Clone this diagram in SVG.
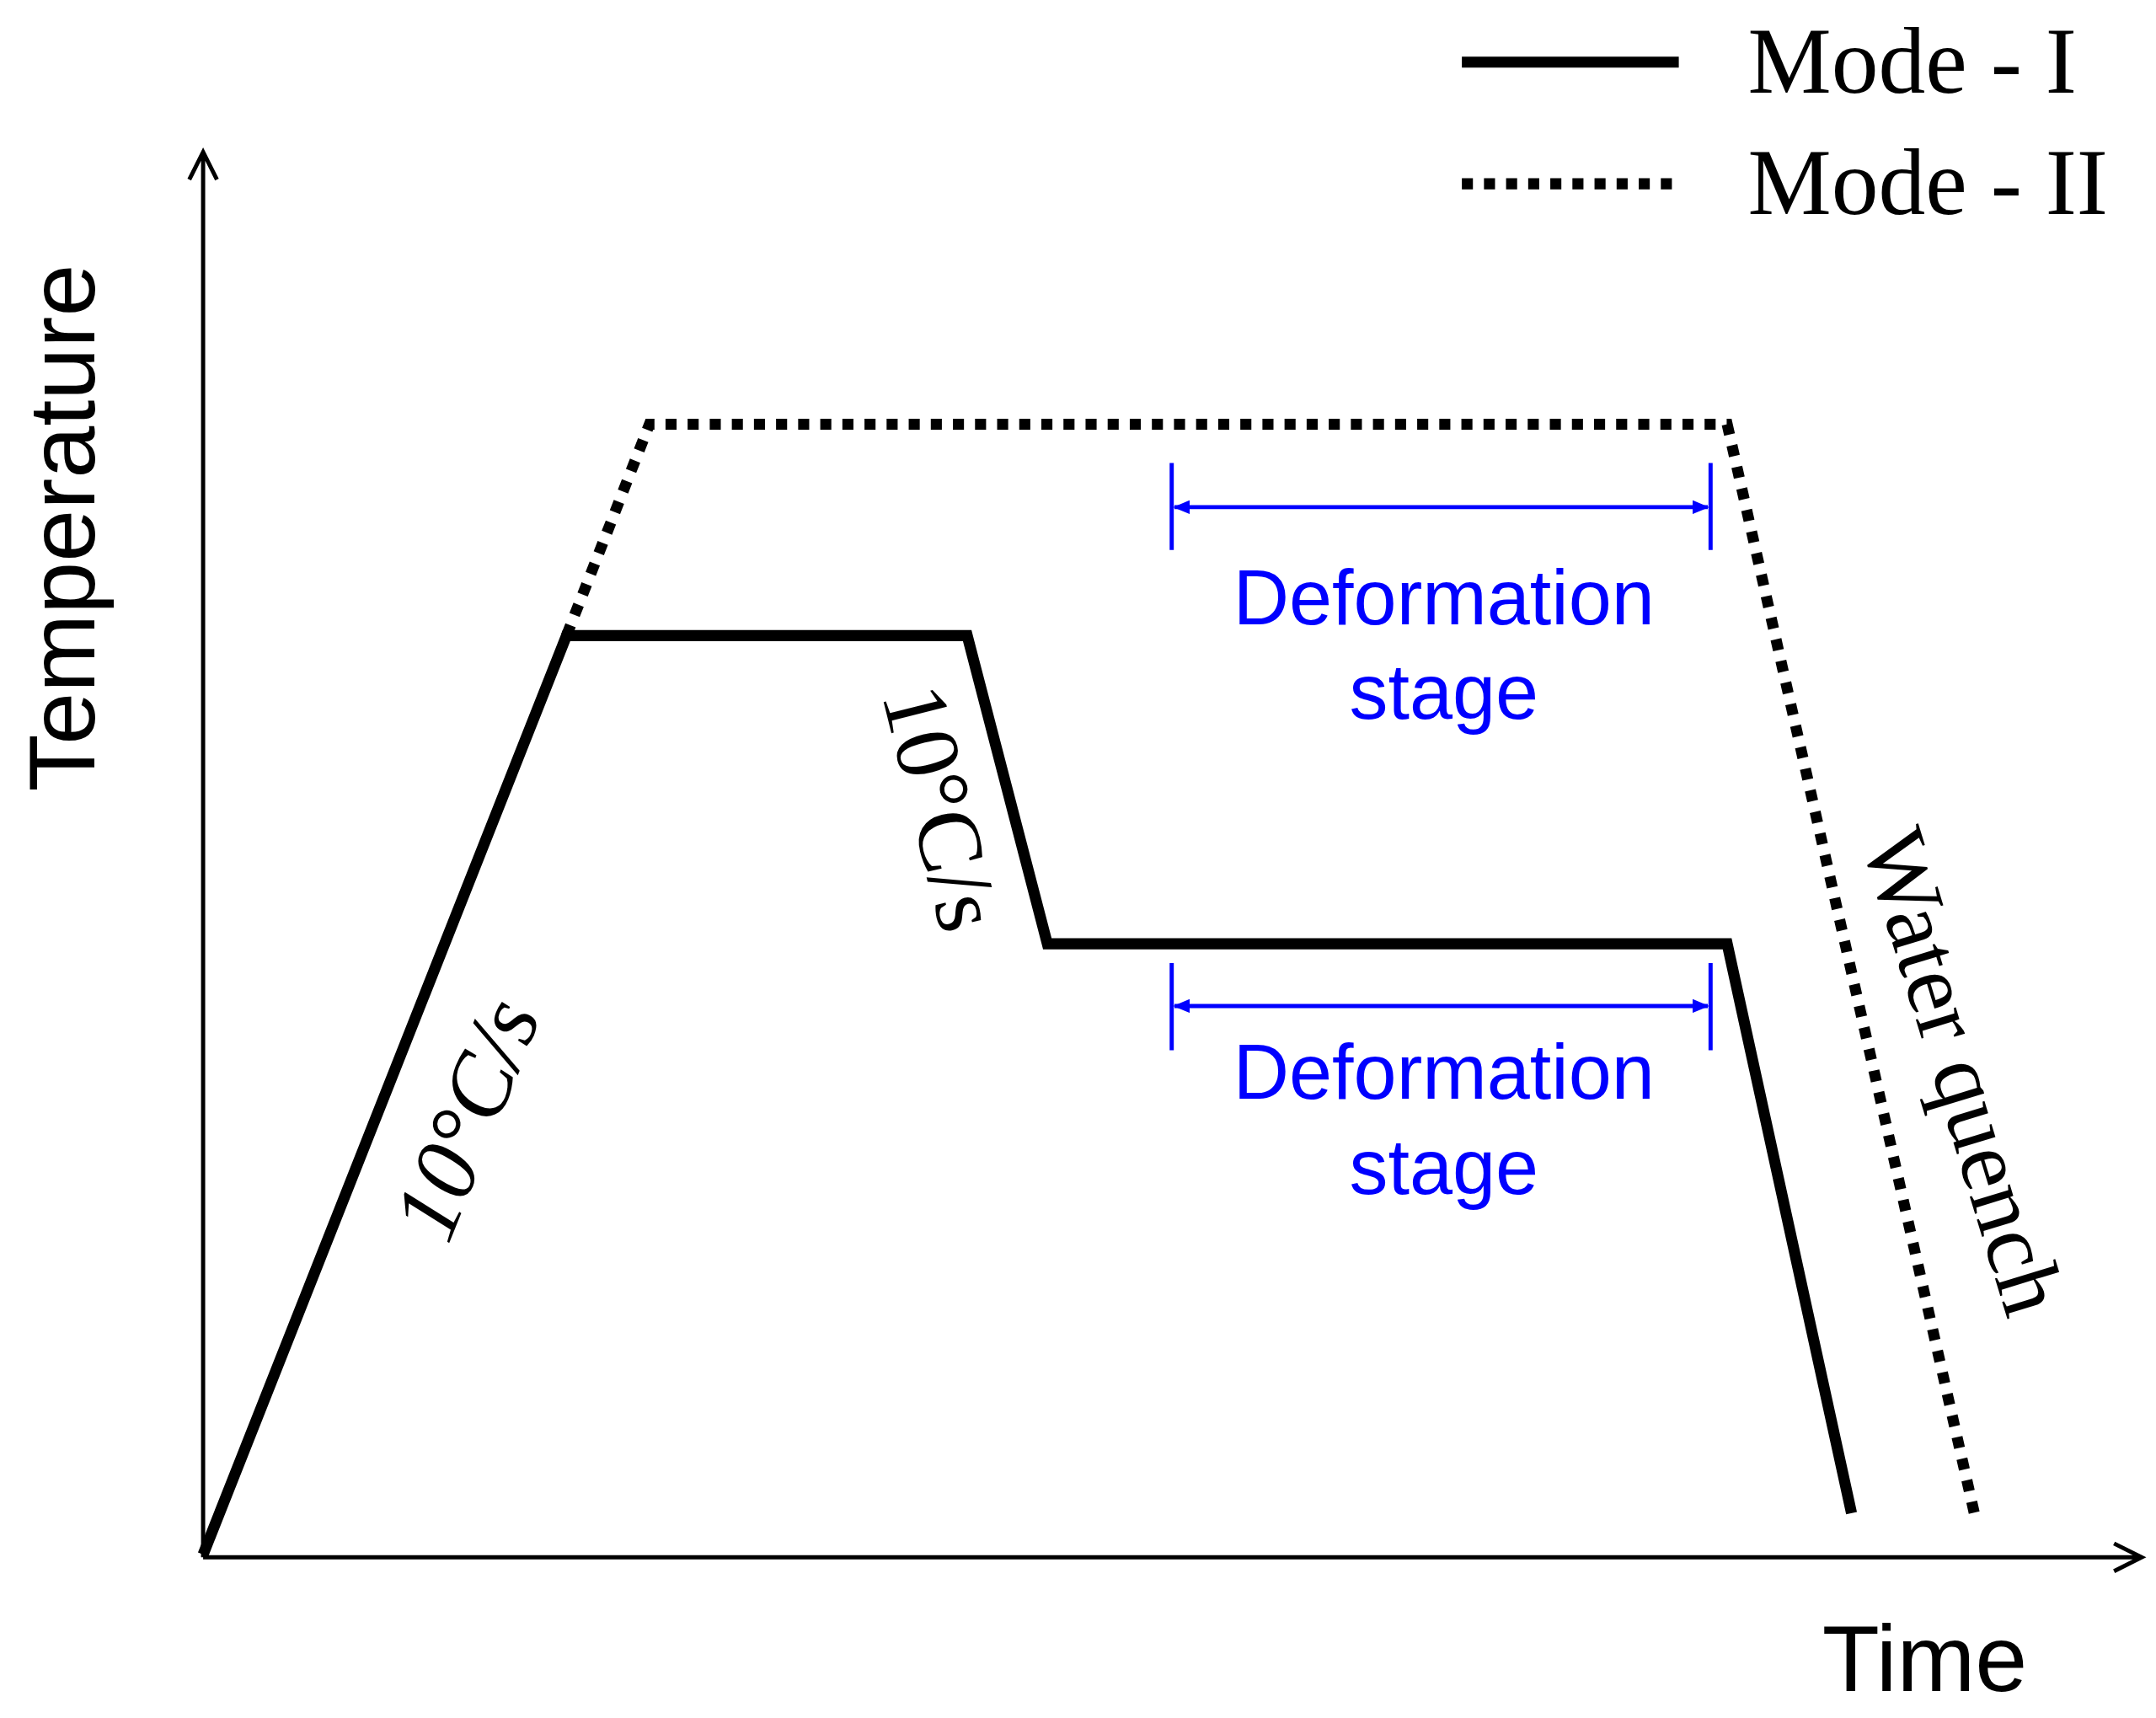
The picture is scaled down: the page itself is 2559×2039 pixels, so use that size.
<svg xmlns="http://www.w3.org/2000/svg" width="2559" height="2039" viewBox="0 0 2559 2039">
<style>
.ax{stroke:#000;stroke-width:3;fill:none}
.m1{stroke:#000;stroke-width:8;fill:none;stroke-linejoin:miter}
.m2{stroke:#000;stroke-width:8;fill:none;stroke-dasharray:8 8}
.bl{stroke:#0000ff;stroke-width:3;fill:none}
.sans{font-family:"Liberation Sans",Arial,sans-serif}
.serif{font-family:"Liberation Serif","Times New Roman",serif}
</style>
<defs>
<marker id="ba" markerWidth="12" markerHeight="10" refX="11" refY="5" orient="auto-start-reverse" markerUnits="userSpaceOnUse"><path d="M0,0 L12,5 L0,10 Z" fill="#0000ff"/></marker>
</defs>
<rect width="2559" height="2039" fill="#fff"/>
<g transform="scale(1.64)">
<g id="axes">
<path class="ax" d="M147,1127 V110 M137,130 L147,110 L157,130"/>
<path class="ax" d="M147,1127 H1550 M1530,1117 L1550,1127 L1530,1137"/>
<text class="sans" font-size="68" transform="translate(68,382) rotate(-90)" text-anchor="middle">Temperature</text>
<text class="sans" font-size="68" x="1393" y="1224" text-anchor="middle">Time</text>
</g>
<g id="connectors">
<path class="m2" d="M410,460 L470,307 H1250 L1430,1100"/>
<path class="m1" d="M147,1125 L410,460 H700 L758,683 H1250 L1340,1095"/>
</g>
<g id="legend">
<line class="m1" x1="1058" y1="45" x2="1215" y2="45"/>
<line class="m2" x1="1058" y1="133" x2="1215" y2="133"/>
<text class="serif" font-size="68" x="1265" y="67">Mode - I</text>
<text class="serif" font-size="68" x="1265" y="155">Mode - II</text>
</g>
<g id="deform1">
<path class="bl" d="M848,335 V398 M1238,335 V398"/>
<line class="bl" x1="850" y1="367" x2="1236" y2="367" marker-start="url(#ba)" marker-end="url(#ba)"/>
<text class="sans" font-size="56" fill="#0000ff" x="1045" y="452" text-anchor="middle">Deformation</text>
<text class="sans" font-size="56" fill="#0000ff" x="1045" y="520" text-anchor="middle">stage</text>
</g>
<g id="deform2">
<path class="bl" d="M848,697 V760 M1238,697 V760"/>
<line class="bl" x1="850" y1="728" x2="1236" y2="728" marker-start="url(#ba)" marker-end="url(#ba)"/>
<text class="sans" font-size="56" fill="#0000ff" x="1045" y="795" text-anchor="middle">Deformation</text>
<text class="sans" font-size="56" fill="#0000ff" x="1045" y="864" text-anchor="middle">stage</text>
</g>
<g id="labels">
<text class="serif" font-size="66" font-style="italic" text-anchor="middle" transform="translate(358,818) rotate(-68)">10°C/s</text>
<text class="serif" font-size="66" text-anchor="middle" transform="translate(660,590) rotate(76)">10°C/s</text>
<text class="serif" font-size="66" text-anchor="middle" transform="translate(1400,782) rotate(73)">Water quench</text>
</g>
</g>
</svg>
